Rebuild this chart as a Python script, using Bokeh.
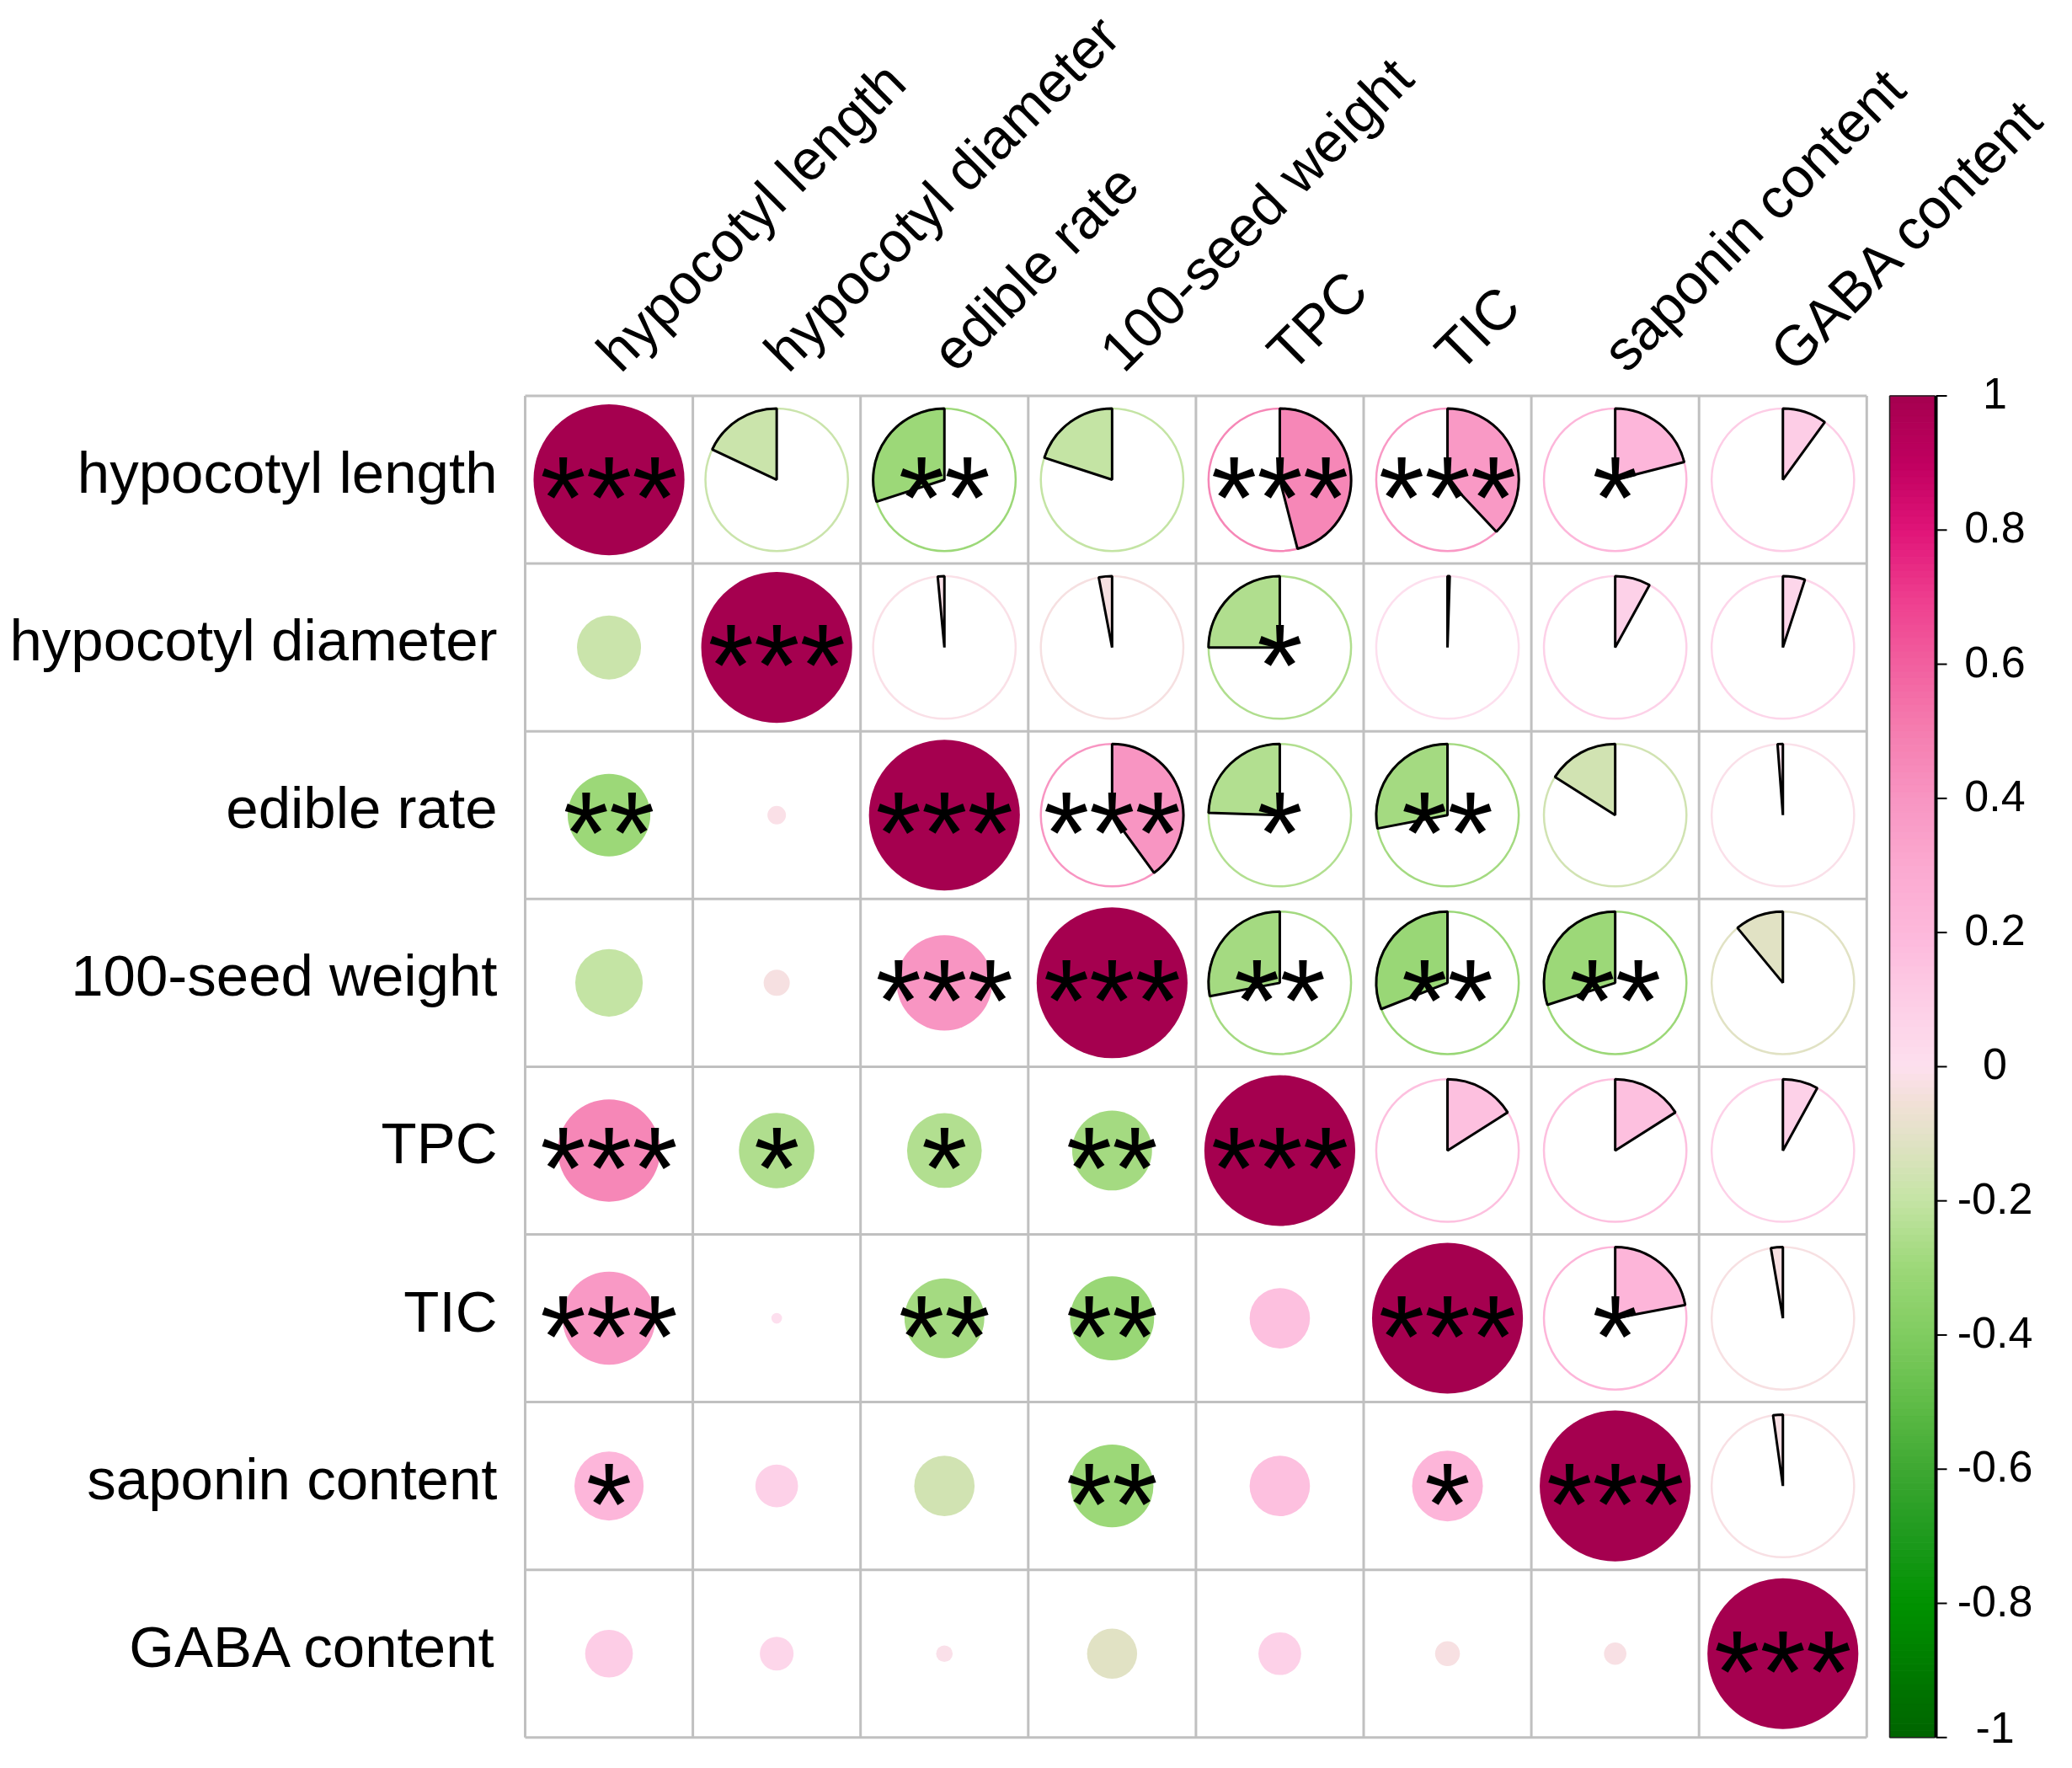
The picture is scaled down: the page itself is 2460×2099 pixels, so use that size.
import math
from bokeh.plotting import figure
from bokeh.models import Range1d, ColumnDataSource
from bokeh.embed import file_html
from bokeh.resources import INLINE
from bokeh.core.properties import value

# ---------------- data ----------------
variables = ["hypocotyl length", "hypocotyl diameter", "edible rate",
             "100-seed weight", "TPC", "TIC", "saponin content", "GABA content"]

r_hypocotyl_length   = [1.00, -0.18, -0.30, -0.20, 0.46, 0.38, 0.21, 0.10]
r_hypocotyl_diameter = [-0.18, 1.00, -0.015, -0.03, -0.25, 0.005, 0.08, 0.05]
r_edible_rate        = [-0.30, -0.015, 1.00, 0.40, -0.245, -0.28, -0.16, -0.012]
r_seed_weight        = [-0.20, -0.03, 0.40, 1.00, -0.28, -0.31, -0.30, -0.11]
r_tpc                = [0.46, -0.25, -0.245, -0.28, 1.00, 0.16, 0.16, 0.08]
r_tic                = [0.38, 0.005, -0.28, -0.31, 0.16, 1.00, 0.22, -0.027]
r_saponin            = [0.21, 0.08, -0.16, -0.30, 0.16, 0.22, 1.00, -0.022]
r_gaba               = [0.10, 0.05, -0.012, -0.11, 0.08, -0.027, -0.022, 1.00]

sig_hypocotyl_length   = ["***", "", "**", "", "***", "***", "*", ""]
sig_hypocotyl_diameter = ["", "***", "", "", "*", "", "", ""]
sig_edible_rate        = ["**", "", "***", "***", "*", "**", "", ""]
sig_seed_weight        = ["", "", "***", "***", "**", "**", "**", ""]
sig_tpc                = ["***", "*", "*", "**", "***", "", "", ""]
sig_tic                = ["***", "", "**", "**", "", "***", "*", ""]
sig_saponin            = ["*", "", "", "**", "", "*", "***", ""]
sig_gaba               = ["", "", "", "", "", "", "", "***"]

cb_ticks = [1.0, 0.8, 0.6, 0.4, 0.2, 0.0, -0.2, -0.4, -0.6, -0.8, -1.0]
cb_labels = ["1", "0.8", "0.6", "0.4", "0.2", "0", "-0.2", "-0.4", "-0.6", "-0.8", "-1"]

# colour palette stops
pal_stops = [-1.0, -0.9, -0.8, -0.7, -0.6, -0.5, -0.4, -0.3, -0.2, -0.1, -0.05,
             0.0, 0.1, 0.2, 0.3, 0.4, 0.5, 0.6, 0.7, 0.8, 0.9, 1.0]
pal_colors = ["#006400", "#007A00", "#009200", "#1E9A1E", "#3EA832", "#60BC48",
              "#80CC60", "#9CD878", "#C4E4A4", "#E4E2C8", "#F2E0D8",
              "#FDE0EE", "#FDCDE6", "#FDB8DB", "#FBA9D0", "#F895C2", "#F57DB0",
              "#F2609F", "#EE3D8E", "#E01478", "#C00060", "#A5004F"]

R = [r_hypocotyl_length, r_hypocotyl_diameter, r_edible_rate, r_seed_weight,
     r_tpc, r_tic, r_saponin, r_gaba]
SIG = [sig_hypocotyl_length, sig_hypocotyl_diameter, sig_edible_rate, sig_seed_weight,
       sig_tpc, sig_tic, sig_saponin, sig_gaba]


def hex2rgb(h):
    h = h.lstrip("#")
    return tuple(int(h[k:k + 2], 16) for k in (0, 2, 4))


def color_of(v):
    v = max(-1.0, min(1.0, v))
    for k in range(len(pal_stops) - 1):
        a, b = pal_stops[k], pal_stops[k + 1]
        if a <= v <= b:
            t = (v - a) / (b - a) if b > a else 0
            c1, c2 = hex2rgb(pal_colors[k]), hex2rgb(pal_colors[k + 1])
            c = [round(c1[m] + (c2[m] - c1[m]) * t) for m in range(3)]
            return "#%02X%02X%02X" % tuple(c)
    return pal_colors[-1]


# ---------------- layout ----------------
W, H = 2444, 2083
CELL = 199.1
GL, GT = 623.0, 469.5
n = len(variables)
x0 = -GL / CELL
y_bottom_px = GT + n * CELL
y0 = -(H - y_bottom_px) / CELL

p = figure(width=W, height=H, output_backend="svg", toolbar_location=None,
           x_range=Range1d(x0, x0 + W / CELL), y_range=Range1d(y0, y0 + H / CELL),
           x_axis_type=None, y_axis_type=None, min_border=0)
p.grid.visible = False
p.outline_line_color = None
p.background_fill_color = "white"
p.border_fill_color = "white"

# grid
gx = list(range(n + 1))
p.segment(x0=gx, y0=[0] * (n + 1), x1=gx, y1=[n] * (n + 1), line_color="#C0C0C0", line_width=3)
p.segment(x0=[0] * (n + 1), y0=gx, x1=[n] * (n + 1), y1=gx, line_color="#C0C0C0", line_width=3)

# circles (lower triangle + diagonal), pies (upper triangle), stars
cx, cy, cr, cc = [], [], [], []
px_, py_, pc = [], [], []
wx, wy, ws, we, wc = [], [], [], [], []
sx, sy, st = [], [], []
for i in range(n):
    for j in range(n):
        v = R[i][j]
        xc = j + 0.5
        yc = n - i - 0.5
        if j <= i:
            cx.append(xc); cy.append(yc)
            cr.append(0.45 * math.sqrt(abs(v)))
            cc.append(color_of(v))
        else:
            px_.append(xc); py_.append(yc); pc.append(color_of(v))
            ang = 2 * math.pi * abs(v)
            if v >= 0:
                ws.append(math.pi / 2 - ang); we.append(math.pi / 2)
            else:
                ws.append(math.pi / 2); we.append(math.pi / 2 + ang)
            wx.append(xc); wy.append(yc); wc.append(color_of(v))
        if SIG[i][j]:
            sx.append(xc); sy.append(yc); st.append(SIG[i][j])

p.circle(x="x", y="y", radius="r", fill_color="c", line_color=None,
         source=ColumnDataSource(dict(x=cx, y=cy, r=cr, c=cc)))
p.circle(x="x", y="y", radius=0.425, fill_color="white", line_color="c", line_width=2.5,
         source=ColumnDataSource(dict(x=px_, y=py_, c=pc)))
p.wedge(x="x", y="y", radius=0.425, start_angle="s", end_angle="e", direction="anticlock",
        fill_color="c", line_color="black", line_width=3,
        source=ColumnDataSource(dict(x=wx, y=wy, s=ws, e=we, c=wc)))

# significance stars
p.text(x=sx, y=sy, text=st, text_font=value("Liberation Sans"), text_font_size="140px",
       text_align="center", text_baseline="alphabetic", y_offset=21, text_color="black")

# row labels
p.text(x=[0] * n, y=[n - i - 0.5 for i in range(n)], text=variables,
       text_font=value("Liberation Sans"), text_font_size="69px",
       text_align="right", text_baseline="alphabetic", x_offset=-33, y_offset=-8,
       text_color="black")

# column labels
p.text(x=[j + 0.5 for j in range(n)], y=[n] * n, text=variables,
       text_font=value("Liberation Sans"), text_font_size="67px", angle=math.pi / 4,
       text_align="left", text_baseline="alphabetic", x_offset=-3, y_offset=-42,
       text_color="black")

# colour bar
cb_left = (2243 - GL) / CELL
cb_right = (2297 - GL) / CELL
N = 200
edges = [-1 + 2 * k / N for k in range(N + 1)]
mids = [(edges[k] + edges[k + 1]) / 2 for k in range(N)]
bcols = [color_of(m) for m in mids]
to_y = lambda v: (v + 1) / 2 * n
p.quad(left=cb_left, right=cb_right, bottom=[to_y(e) for e in edges[:-1]],
       top=[to_y(e) for e in edges[1:]], fill_color=bcols, line_color=bcols, line_width=1)
p.segment(x0=[cb_left], y0=[0], x1=[cb_left], y1=[n], line_color="#222222", line_width=1.5)
p.segment(x0=[cb_left], y0=[0], x1=[cb_right], y1=[0], line_color="#222222", line_width=1.5)
p.segment(x0=[cb_left], y0=[n], x1=[cb_right], y1=[n], line_color="#222222", line_width=1.5)
axis_x = (2298 - GL) / CELL
p.segment(x0=[axis_x], y0=[0], x1=[axis_x], y1=[n], line_color="black", line_width=4)
tick_end = (2311 - GL) / CELL
p.segment(x0=[axis_x] * len(cb_ticks), y0=[to_y(t) for t in cb_ticks],
          x1=[tick_end] * len(cb_ticks), y1=[to_y(t) for t in cb_ticks],
          line_color="black", line_width=2)
lab_x = (2368 - GL) / CELL
lab_off = [-3 if t > -1 else -12 for t in cb_ticks]
p.text(x="x", y="y", text="t", y_offset="o",
       source=ColumnDataSource(dict(x=[lab_x] * len(cb_ticks), y=[to_y(t) for t in cb_ticks],
                                    t=cb_labels, o=lab_off)),
       text_font=value("Liberation Sans"), text_font_size="52px",
       text_align="center", text_baseline="alphabetic", text_color="black")

open("out.html", "w").write(file_html(p, INLINE))
